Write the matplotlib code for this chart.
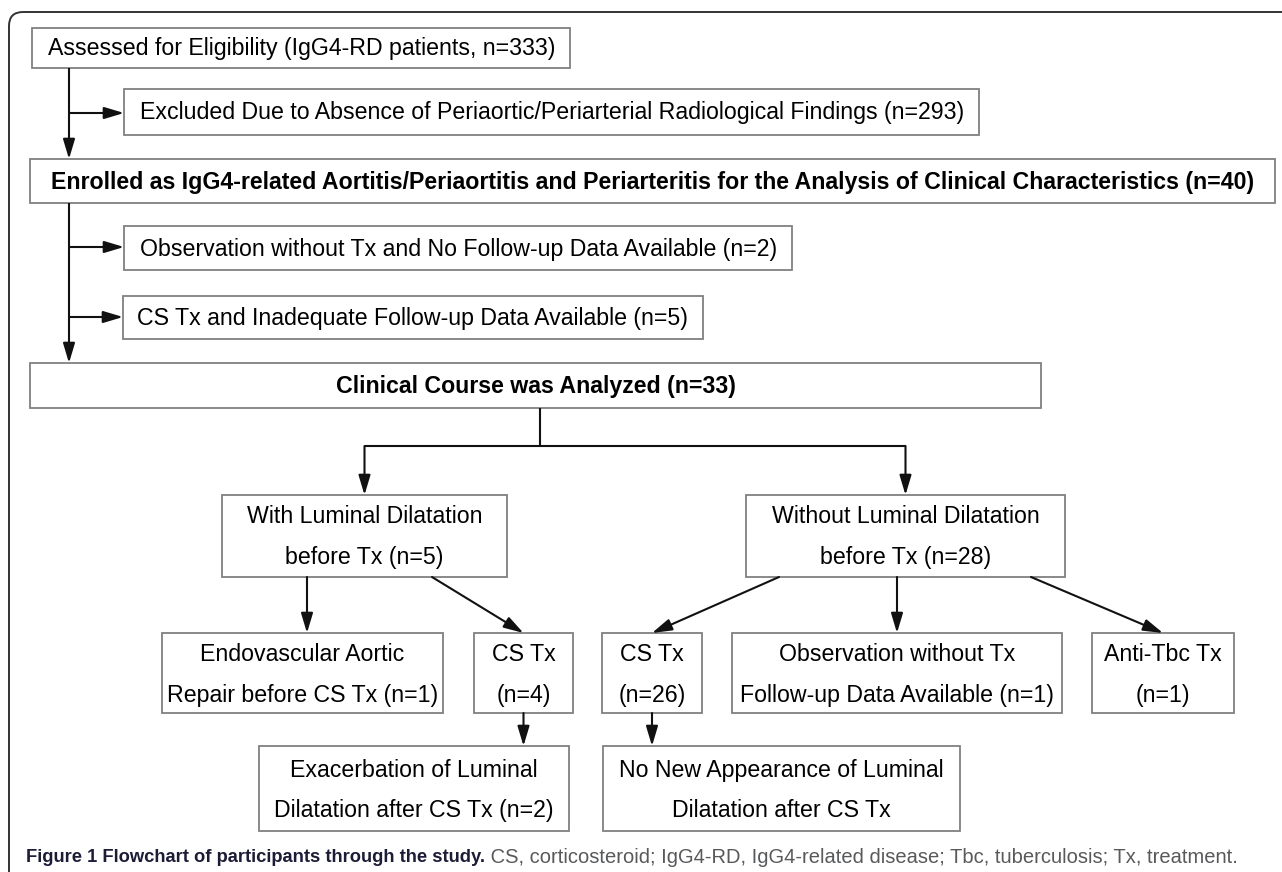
import matplotlib
matplotlib.use("Agg")
import matplotlib.pyplot as plt
from matplotlib.patches import Rectangle, FancyArrowPatch, FancyBboxPatch

# ---------------- data ----------------
screen_labels = [
    "Assessed for Eligibility (IgG4-RD patients, n={})",
    "Excluded Due to Absence of Periaortic/Periarterial Radiological Findings (n={})",
    "Enrolled as IgG4-related Aortitis/Periaortitis and Periarteritis for the Analysis of Clinical Characteristics (n={})",
    "Observation without Tx and No Follow-up Data Available (n={})",
    "CS Tx and Inadequate Follow-up Data Available (n={})",
    "Clinical Course was Analyzed (n={})",
]
screen_counts = [333, 293, 40, 2, 5, 33]

group_labels = ["With Luminal Dilatation\nbefore Tx (n={})",
                "Without Luminal Dilatation\nbefore Tx (n={})"]
group_counts = [5, 28]

treat_labels = ["Endovascular Aortic\nRepair before CS Tx (n={})",
                "CS Tx\n(n={})",
                "CS Tx\n(n={})",
                "Observation without Tx\nFollow-up Data Available (n={})",
                "Anti-Tbc Tx\n(n={})"]
treat_counts = [1, 4, 26, 1, 1]

outcome_labels = ["Exacerbation of Luminal\nDilatation after CS Tx (n={})",
                  "No New Appearance of Luminal\nDilatation after CS Tx"]
outcome_counts = [2, None]

caption_bold = "Figure 1 Flowchart of participants through the study."
caption_rest = " CS, corticosteroid; IgG4-RD, IgG4-related disease; Tbc, tuberculosis; Tx, treatment."

# ---------------- figure ----------------
W, H = 1282, 872
fig = plt.figure(figsize=(W / 100, H / 100), dpi=100)
ax = fig.add_axes([0, 0, 1, 1])
ax.set_xlim(0, W)
ax.set_ylim(H, 0)
ax.axis("off")

FONT = ["Liberation Sans", "DejaVu Sans"]
CAPFONT = ["Liberation Sans Narrow", "Liberation Sans", "DejaVu Sans"]
FS = 16.7
LS = 1.95
BOX_EC = "#808080"
LINE = "#111111"

fig.canvas.draw()
renderer = fig.canvas.get_renderer()


def lab(tpl, n):
    return tpl.format(n) if n is not None else tpl


def text_right(t):
    bb = t.get_window_extent(renderer)
    return ax.transData.inverted().transform((bb.x1, bb.y0))[0]


def box(x0, y0, x1, y1):
    ax.add_patch(Rectangle((x0, y0), x1 - x0, y1 - y0, fill=False,
                           ec=BOX_EC, lw=1.3, zorder=2))


def arrow(p0, p1):
    ax.add_patch(FancyArrowPatch(p0, p1, arrowstyle="-|>,head_length=1.0,head_width=0.3",
                                 mutation_scale=12, color=LINE, lw=1.5,
                                 shrinkA=0, shrinkB=0, zorder=3))


def line(xs, ys):
    ax.plot(xs, ys, color=LINE, lw=1.5, solid_capstyle="butt", zorder=3)


# outer frame (left + top with rounded corner, continues past the canvas)
ax.add_patch(FancyBboxPatch((9, 12), 1400, 1000, boxstyle="round,pad=0,rounding_size=14",
                            fill=False, ec="#333333", lw=1.4, zorder=1))

# ---- single-line left column boxes (width follows the text) ----
auto_boxes = {0: (32, 28, 68, 48), 1: (124, 89, 135, 140),
              3: (124, 226, 270, 140), 4: (123, 296, 339, 137)}
for i, (x0, y0, y1, tx) in auto_boxes.items():
    t = ax.text(tx, (y0 + y1) / 2 + 1, lab(screen_labels[i], screen_counts[i]),
                ha="left", va="center", fontsize=FS, family=FONT, zorder=4)
    x1 = text_right(t) + 15
    box(x0, y0, x1, y1)

wide_boxes = {2: (30, 159, 1275, 203), 5: (30, 363, 1041, 408)}
for i, (x0, y0, x1, y1) in wide_boxes.items():
    box(x0, y0, x1, y1)
    ax.text((x0 + x1) / 2, (y0 + y1) / 2 + 1, lab(screen_labels[i], screen_counts[i]),
            ha="center", va="center", fontsize=FS, fontweight="bold",
            family=FONT, zorder=4)

# left trunk
trunk_x = 69
line([trunk_x, trunk_x], [68, 140])
arrow((trunk_x, 140), (trunk_x, 159))
arrow((trunk_x, 113), (124, 113))
line([trunk_x, trunk_x], [203, 340])
arrow((trunk_x, 340), (trunk_x, 363))
arrow((trunk_x, 247), (124, 247))
arrow((trunk_x, 317), (123, 317))

# ---- group level ----
group_boxes = [(222, 495, 507, 577), (746, 495, 1065, 577)]
for (x0, y0, x1, y1), tpl, n in zip(group_boxes, group_labels, group_counts):
    box(x0, y0, x1, y1)
    ax.text((x0 + x1) / 2, (y0 + y1) / 2 + 1, lab(tpl, n), ha="center", va="center",
            fontsize=FS, family=FONT, linespacing=LS, zorder=4)

split_y = 446
line([540, 540], [408, split_y])
gx = [(b[0] + b[2]) / 2 for b in group_boxes]
line([gx[0], gx[1]], [split_y, split_y])
for x in gx:
    arrow((x, split_y), (x, 495))

# ---- treatment level ----
treat_boxes = [(162, 633, 443, 713), (474, 633, 573, 713), (602, 633, 702, 713),
               (732, 633, 1062, 713), (1092, 633, 1234, 713)]
for (x0, y0, x1, y1), tpl, n in zip(treat_boxes, treat_labels, treat_counts):
    box(x0, y0, x1, y1)
    ax.text((x0 + x1) / 2, (y0 + y1) / 2 + 2, lab(tpl, n), ha="center", va="center",
            fontsize=FS, family=FONT, linespacing=LS, zorder=4)

tc = [(b[0] + b[2]) / 2 for b in treat_boxes]
arrow((307, 577), (307, 633))
arrow((432, 577), (tc[1], 633))
arrow((779, 577), (tc[2], 633))
arrow((tc[3], 577), (tc[3], 633))
arrow((1031, 577), (tc[4], 633))

# ---- outcome level ----
out_boxes = [(259, 746, 569, 831), (603, 746, 960, 831)]
for (x0, y0, x1, y1), tpl, n in zip(out_boxes, outcome_labels, outcome_counts):
    box(x0, y0, x1, y1)
    ax.text((x0 + x1) / 2, (y0 + y1) / 2 + 2, lab(tpl, n), ha="center", va="center",
            fontsize=FS, family=FONT, linespacing=LS, zorder=4)
arrow((tc[1], 713), (tc[1], 746))
arrow((tc[2], 713), (tc[2], 746))

# ---- caption ----
t1 = ax.text(26, 857, caption_bold, ha="left", va="center", fontsize=13.2,
             fontweight="bold", color="#1c1c36", family=CAPFONT)
x_end = text_right(t1)
ax.text(x_end, 857, caption_rest, ha="left", va="center", fontsize=14.5,
        color="#58595b", family=CAPFONT)

fig.savefig("out.png", dpi=100)
